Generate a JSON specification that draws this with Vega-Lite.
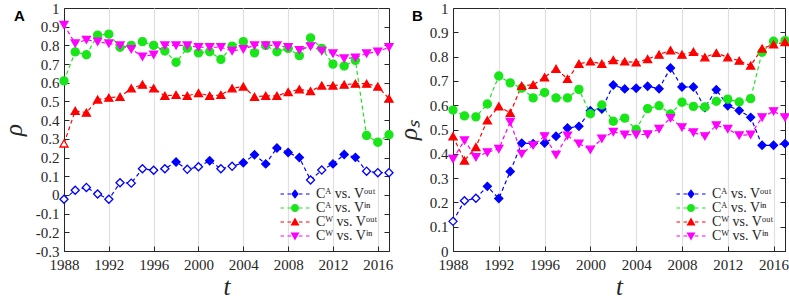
{
 "$schema": "https://vega.github.io/schema/vega-lite/v6.json",
 "padding": {"left": 0, "top": 0, "right": 0, "bottom": 2},
 "bounds": "flush",
 "spacing": 64,
 "background": "white",
 "config": {
  "view": {"stroke": "#262626", "strokeWidth": 1},
  "axis": {"labelFont": "Liberation Serif", "labelFontSize": 15, "labelColor": "#262626", "labelOverlap": false, "labelFlush": false, "titleFont": "Liberation Serif", "titleFontStyle": "italic", "titleFontWeight": "normal", "titleFontSize": 25, "titleColor": "#262626", "domainColor": "#262626", "tickColor": "#262626", "tickSize": -5, "grid": false},
  "legend": {"orient": "bottom-right", "offset": 8, "padding": 0, "labelFont": "Liberation Serif", "labelFontSize": 14, "labelColor": "#262626", "symbolSize": 100, "symbolOpacity": 1, "symbolStrokeWidth": 0, "labelOffset": 14, "rowPadding": 0}
 },
 "datasets": {
  "A": [
   {"s":"a","x":1988,"v":-0.023,"h":1},{"s":"a","x":1989,"v":0.025,"h":1},{"s":"a","x":1990,"v":0.04,"h":1},{"s":"a","x":1991,"v":0.005,"h":1},{"s":"a","x":1992,"v":-0.023,"h":1},{"s":"a","x":1993,"v":0.065,"h":1},{"s":"a","x":1994,"v":0.063,"h":1},{"s":"a","x":1995,"v":0.14,"h":1},{"s":"a","x":1996,"v":0.132,"h":1},{"s":"a","x":1997,"v":0.14,"h":1},{"s":"a","x":1998,"v":0.176},{"s":"a","x":1999,"v":0.137,"h":1},{"s":"a","x":2000,"v":0.151,"h":1},{"s":"a","x":2001,"v":0.183},{"s":"a","x":2002,"v":0.14,"h":1},{"s":"a","x":2003,"v":0.153,"h":1},{"s":"a","x":2004,"v":0.172},{"s":"a","x":2005,"v":0.215},{"s":"a","x":2006,"v":0.166},{"s":"a","x":2007,"v":0.251},{"s":"a","x":2008,"v":0.227},{"s":"a","x":2009,"v":0.2},{"s":"a","x":2010,"v":0.08,"h":1},{"s":"a","x":2011,"v":0.133,"h":1},{"s":"a","x":2012,"v":0.166},{"s":"a","x":2013,"v":0.216},{"s":"a","x":2014,"v":0.201},{"s":"a","x":2015,"v":0.127,"h":1},{"s":"a","x":2016,"v":0.119,"h":1},{"s":"a","x":2017,"v":0.119,"h":1},
   {"s":"b","x":1988,"v":0.61},{"s":"b","x":1989,"v":0.765},{"s":"b","x":1990,"v":0.75},{"s":"b","x":1991,"v":0.855},{"s":"b","x":1992,"v":0.86},{"s":"b","x":1993,"v":0.79},{"s":"b","x":1994,"v":0.8},{"s":"b","x":1995,"v":0.82},{"s":"b","x":1996,"v":0.8},{"s":"b","x":1997,"v":0.77},{"s":"b","x":1998,"v":0.71},{"s":"b","x":1999,"v":0.785},{"s":"b","x":2000,"v":0.76},{"s":"b","x":2001,"v":0.766},{"s":"b","x":2002,"v":0.725},{"s":"b","x":2003,"v":0.796},{"s":"b","x":2004,"v":0.82},{"s":"b","x":2005,"v":0.76},{"s":"b","x":2006,"v":0.8},{"s":"b","x":2007,"v":0.766},{"s":"b","x":2008,"v":0.784},{"s":"b","x":2009,"v":0.745},{"s":"b","x":2010,"v":0.84},{"s":"b","x":2011,"v":0.784},{"s":"b","x":2012,"v":0.7},{"s":"b","x":2013,"v":0.69},{"s":"b","x":2014,"v":0.72},{"s":"b","x":2015,"v":0.318},{"s":"b","x":2016,"v":0.282},{"s":"b","x":2017,"v":0.322},
   {"s":"c","x":1988,"v":0.275,"h":1},{"s":"c","x":1989,"v":0.45},{"s":"c","x":1990,"v":0.44},{"s":"c","x":1991,"v":0.51},{"s":"c","x":1992,"v":0.52},{"s":"c","x":1993,"v":0.525},{"s":"c","x":1994,"v":0.57},{"s":"c","x":1995,"v":0.59},{"s":"c","x":1996,"v":0.57},{"s":"c","x":1997,"v":0.53},{"s":"c","x":1998,"v":0.535},{"s":"c","x":1999,"v":0.53},{"s":"c","x":2000,"v":0.545},{"s":"c","x":2001,"v":0.53},{"s":"c","x":2002,"v":0.535},{"s":"c","x":2003,"v":0.57},{"s":"c","x":2004,"v":0.58},{"s":"c","x":2005,"v":0.525},{"s":"c","x":2006,"v":0.53},{"s":"c","x":2007,"v":0.53},{"s":"c","x":2008,"v":0.55},{"s":"c","x":2009,"v":0.565},{"s":"c","x":2010,"v":0.555},{"s":"c","x":2011,"v":0.585},{"s":"c","x":2012,"v":0.585},{"s":"c","x":2013,"v":0.59},{"s":"c","x":2014,"v":0.595},{"s":"c","x":2015,"v":0.595},{"s":"c","x":2016,"v":0.58},{"s":"c","x":2017,"v":0.515},
   {"s":"d","x":1988,"v":0.91},{"s":"d","x":1989,"v":0.81},{"s":"d","x":1990,"v":0.83},{"s":"d","x":1991,"v":0.82},{"s":"d","x":1992,"v":0.81},{"s":"d","x":1993,"v":0.8},{"s":"d","x":1994,"v":0.78},{"s":"d","x":1995,"v":0.74},{"s":"d","x":1996,"v":0.75},{"s":"d","x":1997,"v":0.8},{"s":"d","x":1998,"v":0.8},{"s":"d","x":1999,"v":0.8},{"s":"d","x":2000,"v":0.79},{"s":"d","x":2001,"v":0.79},{"s":"d","x":2002,"v":0.79},{"s":"d","x":2003,"v":0.77},{"s":"d","x":2004,"v":0.78},{"s":"d","x":2005,"v":0.8},{"s":"d","x":2006,"v":0.8},{"s":"d","x":2007,"v":0.8},{"s":"d","x":2008,"v":0.79},{"s":"d","x":2009,"v":0.775},{"s":"d","x":2010,"v":0.795},{"s":"d","x":2011,"v":0.77},{"s":"d","x":2012,"v":0.757},{"s":"d","x":2013,"v":0.73},{"s":"d","x":2014,"v":0.734},{"s":"d","x":2015,"v":0.757},{"s":"d","x":2016,"v":0.766},{"s":"d","x":2017,"v":0.79}
  ],
  "B": [
   {"s":"a","x":1988,"v":0.122,"h":1},{"s":"a","x":1989,"v":0.207,"h":1},{"s":"a","x":1990,"v":0.217,"h":1},{"s":"a","x":1991,"v":0.266},{"s":"a","x":1992,"v":0.216},{"s":"a","x":1993,"v":0.327},{"s":"a","x":1994,"v":0.444},{"s":"a","x":1995,"v":0.442},{"s":"a","x":1996,"v":0.444},{"s":"a","x":1997,"v":0.472},{"s":"a","x":1998,"v":0.506},{"s":"a","x":1999,"v":0.513},{"s":"a","x":2000,"v":0.577},{"s":"a","x":2001,"v":0.584},{"s":"a","x":2002,"v":0.683},{"s":"a","x":2003,"v":0.667},{"s":"a","x":2004,"v":0.67},{"s":"a","x":2005,"v":0.678},{"s":"a","x":2006,"v":0.668},{"s":"a","x":2007,"v":0.753},{"s":"a","x":2008,"v":0.675},{"s":"a","x":2009,"v":0.675},{"s":"a","x":2010,"v":0.59},{"s":"a","x":2011,"v":0.664},{"s":"a","x":2012,"v":0.598},{"s":"a","x":2013,"v":0.578},{"s":"a","x":2014,"v":0.55},{"s":"a","x":2015,"v":0.435},{"s":"a","x":2016,"v":0.435},{"s":"a","x":2017,"v":0.442},
   {"s":"b","x":1988,"v":0.58},{"s":"b","x":1989,"v":0.556},{"s":"b","x":1990,"v":0.552},{"s":"b","x":1991,"v":0.605},{"s":"b","x":1992,"v":0.72},{"s":"b","x":1993,"v":0.692},{"s":"b","x":1994,"v":0.67},{"s":"b","x":1995,"v":0.63},{"s":"b","x":1996,"v":0.652},{"s":"b","x":1997,"v":0.63},{"s":"b","x":1998,"v":0.63},{"s":"b","x":1999,"v":0.665},{"s":"b","x":2000,"v":0.565},{"s":"b","x":2001,"v":0.601},{"s":"b","x":2002,"v":0.534},{"s":"b","x":2003,"v":0.547},{"s":"b","x":2004,"v":0.5},{"s":"b","x":2005,"v":0.586},{"s":"b","x":2006,"v":0.598},{"s":"b","x":2007,"v":0.564},{"s":"b","x":2008,"v":0.612},{"s":"b","x":2009,"v":0.595},{"s":"b","x":2010,"v":0.593},{"s":"b","x":2011,"v":0.616},{"s":"b","x":2012,"v":0.625},{"s":"b","x":2013,"v":0.613},{"s":"b","x":2014,"v":0.627},{"s":"b","x":2015,"v":0.818},{"s":"b","x":2016,"v":0.863},{"s":"b","x":2017,"v":0.866},
   {"s":"c","x":1988,"v":0.472},{"s":"c","x":1989,"v":0.372},{"s":"c","x":1990,"v":0.428},{"s":"c","x":1991,"v":0.538},{"s":"c","x":1992,"v":0.595},{"s":"c","x":1993,"v":0.568},{"s":"c","x":1994,"v":0.68},{"s":"c","x":1995,"v":0.684},{"s":"c","x":1996,"v":0.715},{"s":"c","x":1997,"v":0.75},{"s":"c","x":1998,"v":0.708},{"s":"c","x":1999,"v":0.77},{"s":"c","x":2000,"v":0.78},{"s":"c","x":2001,"v":0.77},{"s":"c","x":2002,"v":0.786},{"s":"c","x":2003,"v":0.78},{"s":"c","x":2004,"v":0.776},{"s":"c","x":2005,"v":0.79},{"s":"c","x":2006,"v":0.808},{"s":"c","x":2007,"v":0.826},{"s":"c","x":2008,"v":0.808},{"s":"c","x":2009,"v":0.82},{"s":"c","x":2010,"v":0.797},{"s":"c","x":2011,"v":0.815},{"s":"c","x":2012,"v":0.797},{"s":"c","x":2013,"v":0.783},{"s":"c","x":2014,"v":0.763},{"s":"c","x":2015,"v":0.833},{"s":"c","x":2016,"v":0.85},{"s":"c","x":2017,"v":0.86},
   {"s":"d","x":1988,"v":0.379},{"s":"d","x":1989,"v":0.455},{"s":"d","x":1990,"v":0.386},{"s":"d","x":1991,"v":0.406},{"s":"d","x":1992,"v":0.42},{"s":"d","x":1993,"v":0.531},{"s":"d","x":1994,"v":0.4},{"s":"d","x":1995,"v":0.435},{"s":"d","x":1996,"v":0.472},{"s":"d","x":1997,"v":0.396},{"s":"d","x":1998,"v":0.475},{"s":"d","x":1999,"v":0.442},{"s":"d","x":2000,"v":0.417},{"s":"d","x":2001,"v":0.462},{"s":"d","x":2002,"v":0.49},{"s":"d","x":2003,"v":0.479},{"s":"d","x":2004,"v":0.479},{"s":"d","x":2005,"v":0.48},{"s":"d","x":2006,"v":0.502},{"s":"d","x":2007,"v":0.547},{"s":"d","x":2008,"v":0.509},{"s":"d","x":2009,"v":0.488},{"s":"d","x":2010,"v":0.472},{"s":"d","x":2011,"v":0.517},{"s":"d","x":2012,"v":0.502},{"s":"d","x":2013,"v":0.476},{"s":"d","x":2014,"v":0.479},{"s":"d","x":2015,"v":0.55},{"s":"d","x":2016,"v":0.575},{"s":"d","x":2017,"v":0.55}
  ]
 },
 "resolve": {"scale": {"x": "independent", "y": "independent", "color": "independent"}, "legend": {"color": "independent"}},
 "hconcat": [
  {
   "width": 325, "height": 243,
   "data": {"name": "A"},
   "title": {"text": "A", "anchor": "start", "frame": "group", "orient": "top", "dx": -50, "offset": -23, "fontSize": 15, "font": "Liberation Sans", "fontWeight": "bold", "color": "#000000"},
   "layer": [
    {
     "mark": {"type": "line", "strokeDash": [4, 3], "strokeWidth": 1.2},
     "encoding": {
      "x": {"field": "x", "type": "quantitative", "scale": {"domain": [1988, 2017], "nice": false, "zero": false},
            "axis": {"values": [1988, 1992, 1996, 2000, 2004, 2008, 2012, 2016], "format": "d", "title": "t", "grid": true, "gridColor": "#e0e0e0", "gridWidth": 1.2, "labelPadding": 11, "titlePadding": 2}},
      "y": {"field": "v", "type": "quantitative", "scale": {"domain": [-0.3, 1], "nice": false, "zero": false},
            "axis": {"values": [-0.3, -0.2, -0.1, 0, 0.1, 0.2, 0.3, 0.4, 0.5, 0.6, 0.7, 0.8, 0.9, 1], "labelExpr": "replace(format(datum.value,'.1~f'),'−','-')", "title": "ρ", "labelPadding": 10, "titlePadding": 9}},
      "stroke": {"field": "s", "type": "nominal", "scale": {"domain": ["a", "b", "c", "d"], "range": ["#0000ff", "#19e619", "#ff0000", "#ff00ff"]}, "legend": null}
     }
    },
    {
     "mark": {"type": "point", "filled": true, "opacity": 1, "size": 65, "strokeWidth": 1.3},
     "encoding": {
      "x": {"field": "x", "type": "quantitative"},
      "y": {"field": "v", "type": "quantitative",
            "axis": {"orient": "right", "labels": false, "title": null, "domain": false, "grid": false, "values": [-0.3, -0.2, -0.1, 0, 0.1, 0.2, 0.3, 0.4, 0.5, 0.6, 0.7, 0.8, 0.9, 1]}},
      "shape": {"field": "s", "type": "nominal", "scale": {"domain": ["a", "b", "c", "d"], "range": ["diamond", "circle", "triangle-up", "triangle-down"]}, "legend": null},
      "stroke": {"field": "s", "type": "nominal", "scale": {"domain": ["a", "b", "c", "d"], "range": ["#0000ff", "#19e619", "#ff0000", "#ff00ff"]}, "legend": null},
      "fill": {"field": "s", "type": "nominal", "scale": {"domain": ["a", "b", "c", "d"], "range": ["#0000ff", "#19e619", "#ff0000", "#ff00ff"]}, "legend": null, "condition": {"test": "datum.h", "value": "white"}}
     }
    },
    {
     "transform": [{"filter": "false"}],
     "mark": {"type": "point", "filled": true, "opacity": 1, "size": 100},
     "encoding": {
      "x": {"field": "x", "type": "quantitative"},
      "y": {"field": "v", "type": "quantitative", "axis": null},
      "color": {"field": "s", "type": "nominal", "scale": {"domain": ["a", "b", "c", "d"], "range": ["#0000ff", "#19e619", "#ff0000", "#ff00ff"]},
                "legend": {"title": null, "labelExpr": "datum.value=='a'?'Cᴬ vs. Vᵒᵘᵗ':datum.value=='b'?'Cᴬ vs. Vⁱⁿ':datum.value=='c'?'Cᵂ  vs. Vᵒᵘᵗ':'Cᵂ  vs. Vⁱⁿ'"}},
      "shape": {"field": "s", "type": "nominal", "scale": {"domain": ["a", "b", "c", "d"], "range": [
                  "M-2.9,-0.12H-2.2V0.12H-2.9ZM-1.5,-0.12H-0.8V0.12H-1.5ZM0.8,-0.12H1.5V0.12H0.8ZM2.2,-0.12H2.9V0.12H2.2ZM0,-0.95L0.75,0L0,0.95L-0.75,0Z",
                  "M-2.9,-0.12H-2.2V0.12H-2.9ZM-1.5,-0.12H-0.8V0.12H-1.5ZM0.8,-0.12H1.5V0.12H0.8ZM2.2,-0.12H2.9V0.12H2.2ZM0.8,0A0.8,0.8,0,1,1,-0.8,0A0.8,0.8,0,1,1,0.8,0Z",
                  "M-2.9,-0.12H-2.2V0.12H-2.9ZM-1.5,-0.12H-0.8V0.12H-1.5ZM0.8,-0.12H1.5V0.12H0.8ZM2.2,-0.12H2.9V0.12H2.2ZM0,-0.9L0.9,0.7L-0.9,0.7Z",
                  "M-2.9,-0.12H-2.2V0.12H-2.9ZM-1.5,-0.12H-0.8V0.12H-1.5ZM0.8,-0.12H1.5V0.12H0.8ZM2.2,-0.12H2.9V0.12H2.2ZM0,0.9L0.9,-0.7L-0.9,-0.7Z"]},
                "legend": {"title": null, "labelExpr": "datum.value=='a'?'Cᴬ vs. Vᵒᵘᵗ':datum.value=='b'?'Cᴬ vs. Vⁱⁿ':datum.value=='c'?'Cᵂ  vs. Vᵒᵘᵗ':'Cᵂ  vs. Vⁱⁿ'"}}
     }
    }
   ],
   "resolve": {"axis": {"y": "independent"}, "scale": {"shape": "independent", "color": "independent"}, "legend": {"shape": "independent", "color": "independent"}}
  },
  {
   "width": 332, "height": 243,
   "data": {"name": "B"},
   "title": {"text": "B", "anchor": "start", "frame": "group", "orient": "top", "dx": -41, "offset": -23, "fontSize": 15, "font": "Liberation Sans", "fontWeight": "bold", "color": "#000000"},
   "layer": [
    {
     "mark": {"type": "line", "strokeDash": [4, 3], "strokeWidth": 1.2},
     "encoding": {
      "x": {"field": "x", "type": "quantitative", "scale": {"domain": [1988, 2017], "nice": false, "zero": false},
            "axis": {"values": [1988, 1992, 1996, 2000, 2004, 2008, 2012, 2016], "format": "d", "title": "t", "grid": true, "gridColor": "#e0e0e0", "gridWidth": 1.2, "labelPadding": 11, "titlePadding": 2}},
      "y": {"field": "v", "type": "quantitative", "scale": {"domain": [0, 1], "nice": false, "zero": false},
            "axis": {"values": [0, 0.1, 0.2, 0.3, 0.4, 0.5, 0.6, 0.7, 0.8, 0.9, 1], "labelExpr": "format(datum.value,'.1~f')", "title": "ρₛ", "labelPadding": 10, "titlePadding": 8}},
      "stroke": {"field": "s", "type": "nominal", "scale": {"domain": ["a", "b", "c", "d"], "range": ["#0000ff", "#19e619", "#ff0000", "#ff00ff"]}, "legend": null}
     }
    },
    {
     "mark": {"type": "point", "filled": true, "opacity": 1, "size": 65, "strokeWidth": 1.3},
     "encoding": {
      "x": {"field": "x", "type": "quantitative"},
      "y": {"field": "v", "type": "quantitative",
            "axis": {"orient": "right", "labels": false, "title": null, "domain": false, "grid": false, "values": [0, 0.1, 0.2, 0.3, 0.4, 0.5, 0.6, 0.7, 0.8, 0.9, 1]}},
      "shape": {"field": "s", "type": "nominal", "scale": {"domain": ["a", "b", "c", "d"], "range": ["diamond", "circle", "triangle-up", "triangle-down"]}, "legend": null},
      "stroke": {"field": "s", "type": "nominal", "scale": {"domain": ["a", "b", "c", "d"], "range": ["#0000ff", "#19e619", "#ff0000", "#ff00ff"]}, "legend": null},
      "fill": {"field": "s", "type": "nominal", "scale": {"domain": ["a", "b", "c", "d"], "range": ["#0000ff", "#19e619", "#ff0000", "#ff00ff"]}, "legend": null, "condition": {"test": "datum.h", "value": "white"}}
     }
    },
    {
     "transform": [{"filter": "false"}],
     "mark": {"type": "point", "filled": true, "opacity": 1, "size": 100},
     "encoding": {
      "x": {"field": "x", "type": "quantitative"},
      "y": {"field": "v", "type": "quantitative", "axis": null},
      "color": {"field": "s", "type": "nominal", "scale": {"domain": ["a", "b", "c", "d"], "range": ["#0000ff", "#19e619", "#ff0000", "#ff00ff"]},
                "legend": {"title": null, "labelExpr": "datum.value=='a'?'Cᴬ vs. Vᵒᵘᵗ':datum.value=='b'?'Cᴬ vs. Vⁱⁿ':datum.value=='c'?'Cᵂ  vs. Vᵒᵘᵗ':'Cᵂ  vs. Vⁱⁿ'"}},
      "shape": {"field": "s", "type": "nominal", "scale": {"domain": ["a", "b", "c", "d"], "range": [
                  "M-2.9,-0.12H-2.2V0.12H-2.9ZM-1.5,-0.12H-0.8V0.12H-1.5ZM0.8,-0.12H1.5V0.12H0.8ZM2.2,-0.12H2.9V0.12H2.2ZM0,-0.95L0.75,0L0,0.95L-0.75,0Z",
                  "M-2.9,-0.12H-2.2V0.12H-2.9ZM-1.5,-0.12H-0.8V0.12H-1.5ZM0.8,-0.12H1.5V0.12H0.8ZM2.2,-0.12H2.9V0.12H2.2ZM0.8,0A0.8,0.8,0,1,1,-0.8,0A0.8,0.8,0,1,1,0.8,0Z",
                  "M-2.9,-0.12H-2.2V0.12H-2.9ZM-1.5,-0.12H-0.8V0.12H-1.5ZM0.8,-0.12H1.5V0.12H0.8ZM2.2,-0.12H2.9V0.12H2.2ZM0,-0.9L0.9,0.7L-0.9,0.7Z",
                  "M-2.9,-0.12H-2.2V0.12H-2.9ZM-1.5,-0.12H-0.8V0.12H-1.5ZM0.8,-0.12H1.5V0.12H0.8ZM2.2,-0.12H2.9V0.12H2.2ZM0,0.9L0.9,-0.7L-0.9,-0.7Z"]},
                "legend": {"title": null, "labelExpr": "datum.value=='a'?'Cᴬ vs. Vᵒᵘᵗ':datum.value=='b'?'Cᴬ vs. Vⁱⁿ':datum.value=='c'?'Cᵂ  vs. Vᵒᵘᵗ':'Cᵂ  vs. Vⁱⁿ'"}}
     }
    }
   ],
   "resolve": {"axis": {"y": "independent"}, "scale": {"shape": "independent", "color": "independent"}, "legend": {"shape": "independent", "color": "independent"}}
  }
 ]
}
